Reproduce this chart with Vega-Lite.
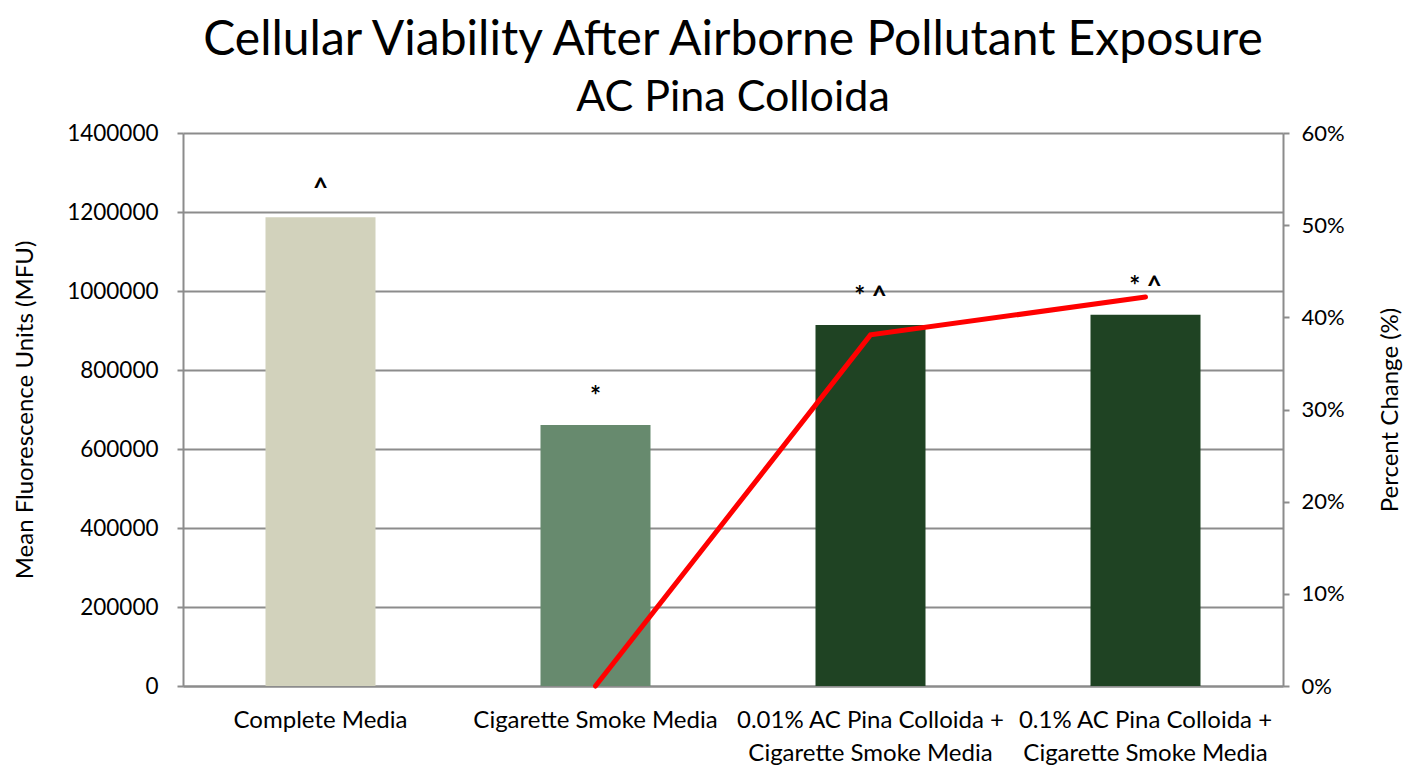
{
  "$schema": "https://vega.github.io/schema/vega-lite/v6.json",
  "autosize": "none",
  "width": 1100,
  "height": 553,
  "padding": {"left": 183, "top": 133, "right": 122, "bottom": 79},
  "background": "white",
  "config": {
    "font": "Lato",
    "view": {"stroke": null}
  },
  "title": {
    "text": "Cellular Viability After Airborne Pollutant Exposure",
    "subtitle": "AC Pina Colloida",
    "frame": "group",
    "anchor": "middle",
    "font": "Lato",
    "fontSize": 48,
    "fontWeight": "normal",
    "color": "#000000",
    "subtitleFont": "Lato",
    "subtitleFontSize": 43,
    "subtitleColor": "#000000",
    "subtitlePadding": 12,
    "offset": 2
  },
  "data": {
    "values": [
      {"group": "Complete Media", "mfu": 1187000, "pct": null, "ann": "^"},
      {"group": "Cigarette Smoke Media", "mfu": 661000, "pct": 0, "ann": "*"},
      {"group": "0.01% AC Pina Colloida + Cigarette Smoke Media", "mfu": 914000, "pct": 38.1, "ann": "* ^"},
      {"group": "0.1% AC Pina Colloida + Cigarette Smoke Media", "mfu": 940000, "pct": 42.2, "ann": "* ^"}
    ]
  },
  "encoding": {
    "x": {
      "field": "group",
      "type": "nominal",
      "sort": null,
      "scale": {"paddingInner": 0.6, "paddingOuter": 0.3},
      "axis": {
        "title": null,
        "labelAngle": 0,
        "labelFont": "Lato",
        "labelFontSize": 24,
        "labelColor": "#000000",
        "labelPadding": 34,
        "labelLineHeight": 33,
        "labelBaseline": "middle",
        "labelLimit": 500,
        "ticks": false,
        "domainColor": "#8c8c8c",
        "domainWidth": 2,
        "grid": false,
        "labelExpr": "indexof(datum.value,'+') > 0 ? [substring(datum.value, 0, indexof(datum.value,'+') + 1), substring(datum.value, indexof(datum.value,'+') + 2)] : datum.value"
      }
    }
  },
  "layer": [
    {
      "mark": {"type": "bar"},
      "encoding": {
        "y": {
          "field": "mfu",
          "type": "quantitative",
          "scale": {"domain": [0, 1400000], "nice": false},
          "axis": {
            "title": "Mean Fluorescence Units (MFU)",
            "titleFont": "Lato",
            "titleFontSize": 24,
            "titleFontWeight": "normal",
            "titleColor": "#000000",
            "titlePadding": 29,
            "values": [0, 200000, 400000, 600000, 800000, 1000000, 1200000, 1400000],
            "format": "d",
            "labelFont": "Lato",
            "labelFontSize": 22.5,
            "labelColor": "#000000",
            "labelPadding": 19,
            "tickSize": 6,
            "tickColor": "#8c8c8c",
            "tickWidth": 2,
            "domainColor": "#8c8c8c",
            "domainWidth": 2,
            "grid": true,
            "gridColor": "#8c8c8c",
            "gridWidth": 2
          }
        },
        "color": {
          "field": "group",
          "type": "nominal",
          "sort": null,
          "scale": {"range": ["#d2d2bc", "#678a6e", "#1f4323", "#1f4323"]},
          "legend": null
        }
      }
    },
    {
      "mark": {"type": "text", "font": "Lato", "fontSize": 26, "fontWeight": "bold", "baseline": "alphabetic", "dy": -20, "color": "#000000"},
      "encoding": {
        "y": {"field": "mfu", "type": "quantitative", "scale": {"domain": [0, 1400000], "nice": false}, "axis": null},
        "text": {"field": "ann", "type": "nominal"}
      }
    },
    {
      "mark": {"type": "line", "color": "#ff0000", "strokeWidth": 5, "strokeCap": "round"},
      "encoding": {
        "y": {
          "field": "pct",
          "type": "quantitative",
          "scale": {"domain": [0, 60], "nice": false},
          "axis": {
            "orient": "right",
            "title": "Percent Change (%)",
            "titleAngle": 270,
            "titleFont": "Lato",
            "titleFontSize": 24,
            "titleFontWeight": "normal",
            "titleColor": "#000000",
            "titlePadding": 58,
            "values": [0, 10, 20, 30, 40, 50, 60],
            "labelExpr": "datum.value + '%'",
            "labelFont": "Lato",
            "labelFontSize": 22,
            "labelColor": "#000000",
            "labelPadding": 12,
            "tickSize": 6,
            "tickColor": "#8c8c8c",
            "tickWidth": 2,
            "domainColor": "#8c8c8c",
            "domainWidth": 2,
            "grid": false
          }
        }
      }
    }
  ],
  "resolve": {"scale": {"y": "independent"}}
}
